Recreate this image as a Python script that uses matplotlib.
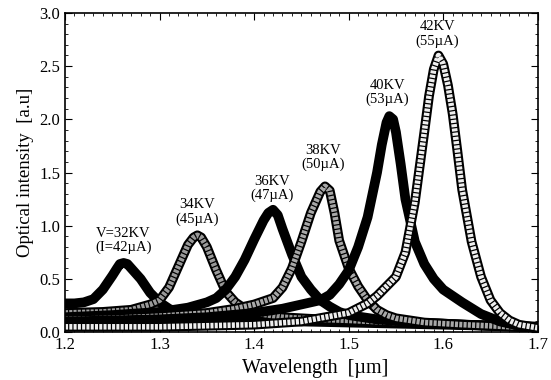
import matplotlib
matplotlib.use("Agg")
import matplotlib.pyplot as plt
from matplotlib.ticker import MultipleLocator

plt.rcParams['font.family'] = ['Liberation Serif', 'DejaVu Serif']

# spectra: wavelength [um], intensity [a.u]
wl_32 = [1.20, 1.21, 1.22, 1.23, 1.24, 1.25, 1.255, 1.258, 1.262, 1.266, 1.27, 1.28,
         1.29, 1.30, 1.31, 1.32, 1.34, 1.37, 1.40, 1.45, 1.50, 1.55, 1.60, 1.65, 1.70]
int_32 = [0.27, 0.27, 0.28, 0.31, 0.40, 0.53, 0.60, 0.64, 0.65, 0.64, 0.60, 0.50,
          0.37, 0.28, 0.22, 0.18, 0.15, 0.13, 0.12, 0.10, 0.09, 0.08, 0.07, 0.06, 0.05]

wl_34 = [1.20, 1.24, 1.27, 1.29, 1.30, 1.31, 1.32, 1.33, 1.336, 1.34, 1.344, 1.35,
         1.36, 1.37, 1.38, 1.39, 1.40, 1.43, 1.47, 1.50, 1.55, 1.60, 1.65, 1.70]
int_34 = [0.18, 0.19, 0.21, 0.26, 0.30, 0.42, 0.62, 0.82, 0.89, 0.91, 0.89, 0.80,
          0.58, 0.38, 0.28, 0.22, 0.18, 0.14, 0.12, 0.11, 0.09, 0.08, 0.06, 0.05]

wl_36 = [1.20, 1.25, 1.30, 1.33, 1.35, 1.36, 1.37, 1.38, 1.39, 1.40, 1.41, 1.415,
         1.42, 1.425, 1.43, 1.44, 1.45, 1.46, 1.47, 1.48, 1.49, 1.50, 1.53, 1.57,
         1.62, 1.70]
int_36 = [0.14, 0.16, 0.19, 0.23, 0.28, 0.32, 0.40, 0.52, 0.68, 0.87, 1.05, 1.12,
          1.15, 1.10, 0.97, 0.73, 0.52, 0.40, 0.30, 0.24, 0.19, 0.16, 0.12, 0.09,
          0.07, 0.05]

wl_38 = [1.20, 1.25, 1.30, 1.35, 1.38, 1.40, 1.42, 1.43, 1.44, 1.45, 1.46, 1.47,
         1.475, 1.48, 1.485, 1.49, 1.50, 1.51, 1.52, 1.53, 1.54, 1.55, 1.58, 1.62,
         1.70]
int_38 = [0.12, 0.13, 0.15, 0.18, 0.22, 0.26, 0.32, 0.42, 0.60, 0.85, 1.12, 1.32,
          1.37, 1.33, 1.12, 0.86, 0.60, 0.43, 0.30, 0.21, 0.16, 0.13, 0.09, 0.07,
          0.04]

wl_40 = [1.20, 1.30, 1.35, 1.40, 1.43, 1.45, 1.47, 1.48, 1.49, 1.50, 1.51, 1.52,
         1.53, 1.535, 1.54, 1.543, 1.547, 1.55, 1.555, 1.56, 1.57, 1.58, 1.59, 1.60,
         1.62, 1.64, 1.66, 1.68, 1.70]
int_40 = [0.10, 0.12, 0.14, 0.18, 0.22, 0.26, 0.30, 0.35, 0.45, 0.58, 0.80, 1.08,
          1.50, 1.76, 1.97, 2.03, 2.00, 1.88, 1.58, 1.25, 0.85, 0.64, 0.50, 0.40,
          0.28, 0.17, 0.10, 0.06, 0.04]

wl_42 = [1.20, 1.30, 1.40, 1.45, 1.50, 1.52, 1.53, 1.54, 1.55, 1.56, 1.57, 1.58,
         1.585, 1.59, 1.595, 1.60, 1.605, 1.61, 1.615, 1.62, 1.63, 1.64, 1.65, 1.66,
         1.67, 1.68, 1.70]
int_42 = [0.05, 0.05, 0.07, 0.10, 0.18, 0.27, 0.34, 0.43, 0.52, 0.75, 1.22, 1.88,
          2.22, 2.47, 2.60, 2.52, 2.32, 2.05, 1.70, 1.34, 0.85, 0.52, 0.30, 0.18,
          0.11, 0.07, 0.04]

labels = ["V=32KV\n(I=42µA)", "34KV\n(45µA)", "36KV\n(47µA)",
          "38KV\n(50µA)", "40KV\n(53µA)", "42KV\n(55µA)"]
label_x = [1.262, 1.340, 1.419, 1.473, 1.541, 1.594]
label_y = [0.86, 1.13, 1.35, 1.64, 2.25, 2.80]

fig = plt.figure(figsize=(5.51, 3.8), dpi=100)
ax = fig.add_axes([0.118, 0.126, 0.858, 0.840])

# (wavelength, intensity, fill colour of the open squares or None for solid)
series = [(wl_32, int_32, None), (wl_34, int_34, '#9a9a9a'), (wl_36, int_36, None),
          (wl_38, int_38, '#a8a8a8'), (wl_40, int_40, None), (wl_42, int_42, '#eeeeee')]

for wl, inten, fill in series:
    ax.plot(wl, inten, color='black', lw=7, solid_joinstyle='round',
            solid_capstyle='butt')
    if fill is not None:
        ax.plot(wl, inten, color=fill, lw=4.0, linestyle=(0, (0.55, 0.22)),
                dash_joinstyle='round')

for x, y, t in zip(label_x, label_y, labels):
    ax.text(x, y, t, ha='center', va='center', fontsize=10.5, linespacing=1.1)

ax.set_xlim(1.2, 1.7)
ax.set_ylim(0, 3.0)
ax.xaxis.set_major_locator(MultipleLocator(0.1))
ax.xaxis.set_minor_locator(MultipleLocator(0.01))
ax.yaxis.set_major_locator(MultipleLocator(0.5))
ax.yaxis.set_minor_locator(MultipleLocator(0.1))
ax.yaxis.set_major_formatter(plt.FormatStrFormatter('%.1f'))
ax.tick_params(which='both', direction='in', top=True, right=True, labelsize=12)
ax.tick_params(which='major', length=5)
ax.tick_params(which='minor', length=2.5)
for s in ax.spines.values():
    s.set_linewidth(1.2)

ax.set_xlabel("Wavelength  [µm]", fontsize=14.5, labelpad=0)
ax.xaxis.set_label_coords(0.53, -0.085)
ax.set_ylabel("Optical intensity  [a.u]", fontsize=13.5, labelpad=4)

fig.savefig("out.png", dpi=100)
